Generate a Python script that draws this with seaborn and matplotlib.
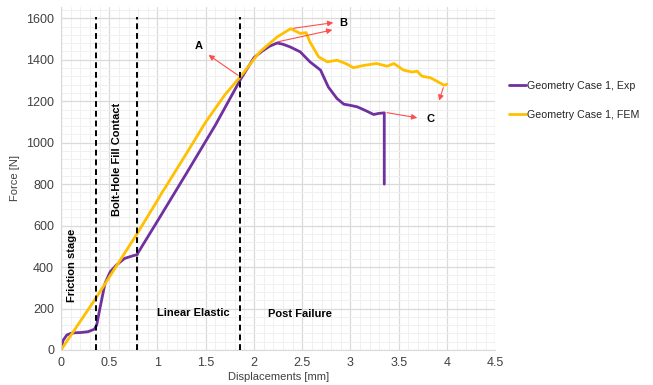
import matplotlib
matplotlib.use("Agg")
import matplotlib.pyplot as plt
import seaborn as sns
import pandas as pd
from matplotlib.ticker import MultipleLocator

# ---- data ----
exp_x = [0.0, 0.02, 0.06, 0.10, 0.145, 0.2, 0.28, 0.345, 0.37, 0.40, 0.456, 0.51, 0.575,
         0.66, 0.75, 0.79, 0.80, 1.0, 1.3, 1.6, 1.86, 2.0, 2.08, 2.16, 2.24,
         2.30, 2.375, 2.48, 2.58, 2.69, 2.77, 2.86, 2.93, 3.0, 3.07, 3.17, 3.24, 3.29,
         3.35, 3.35]
exp_y = [0, 45, 72, 80, 83, 84, 88, 100, 120, 193, 321, 377, 410, 442, 455, 460,
         470, 622, 852, 1085, 1305, 1410, 1440, 1465, 1481, 1475, 1462, 1438, 1390,
         1350, 1269, 1213, 1186, 1180, 1173, 1152, 1136, 1141, 1144, 800]

fem_x = [0.0, 0.36, 0.79, 1.0, 1.05, 1.08, 1.3, 1.5, 1.7, 1.86, 2.06, 2.24, 2.38, 2.48,
         2.54, 2.58, 2.67, 2.76, 2.86, 2.95, 3.03, 3.14, 3.27, 3.38, 3.45, 3.55, 3.64,
         3.69, 3.74, 3.83, 3.91, 3.97, 4.0]
fem_y = [0, 249, 562, 722, 762, 783, 948, 1100, 1232, 1319, 1438, 1510, 1550, 1527,
         1531, 1486, 1414, 1390, 1398, 1382, 1362, 1373, 1382, 1369, 1382, 1350, 1341,
         1345, 1321, 1313, 1293, 1277, 1282]

stage_x = [0.36, 0.79, 1.86]
series_names = ["Geometry Case 1, Exp", "Geometry Case 1, FEM"]
x_ticks = [0, 0.5, 1, 1.5, 2, 2.5, 3, 3.5, 4, 4.5]
x_tick_labels = ["0", "0.5", "1", "1.5", "2", "2.5", "3", "3.5", "4", "4.5"]
y_ticks = [0, 200, 400, 600, 800, 1000, 1200, 1400, 1600]

df = pd.concat([
    pd.DataFrame({"x": exp_x, "y": exp_y, "series": series_names[0]}),
    pd.DataFrame({"x": fem_x, "y": fem_y, "series": series_names[1]}),
])

sns.set_style("white")
plt.rcParams["font.family"] = ["Liberation Sans", "DejaVu Sans"]

fig = plt.figure(figsize=(6.53, 3.85), dpi=100)
ax = fig.add_axes([0.0934, 0.091, 0.665, 0.891])

palette = {series_names[0]: "#7030A0", series_names[1]: "#FFC000"}
sns.lineplot(data=df, x="x", y="y", hue="series", units="series", estimator=None,
             sort=False, palette=palette, ax=ax, linewidth=2.0, legend=True)

ax.set_xlim(0, 4.5)
ax.set_ylim(0, 1655)
ax.set_xticks(x_ticks)
ax.set_xticklabels(x_tick_labels)
ax.set_yticks(y_ticks)
ax.xaxis.set_minor_locator(MultipleLocator(0.1))
ax.yaxis.set_minor_locator(MultipleLocator(40))
ax.grid(True, which="major", color="#dadada", linewidth=0.9)
ax.grid(True, which="minor", color="#f0f0f0", linewidth=0.7)
ax.set_axisbelow(True)
for s in ["top", "right"]:
    ax.spines[s].set_visible(False)
for s in ["left", "bottom"]:
    ax.spines[s].set_color("#d9d9d9")
ax.tick_params(axis="both", which="both", length=0, labelsize=9, colors="#404040", pad=5)
ax.set_xlabel("Displacements [mm]", fontsize=8, color="#404040", labelpad=2)
ax.set_ylabel("Force [N]", fontsize=8, color="#404040", labelpad=4)

for xv in stage_x:
    ax.plot([xv, xv], [0, 1608], color="black", linestyle=(0, (3, 2)), linewidth=1.4, zorder=3)

tk = dict(fontsize=8, fontweight="bold", color="black")
ax.text(0.11, 410, "Friction stage", rotation=90, ha="center", va="center", **tk)
ax.text(0.58, 920, "Bolt-Hole Fill Contact", rotation=90, ha="center", va="center", **tk)
ax.text(1.37, 178, "Linear Elastic", ha="center", va="center", **tk)
ax.text(2.48, 172, "Post Failure", ha="center", va="center", **tk)

arr = dict(arrowstyle="-|>", color="#ff4d4d", lw=0.8, mutation_scale=8)
ax.annotate("", xy=(1.505, 1431), xytext=(1.86, 1317), arrowprops=arr)
ax.text(1.43, 1465, "A", ha="center", va="center", **tk)
ax.annotate("", xy=(2.85, 1581), xytext=(2.38, 1550), arrowprops=arr)
ax.annotate("", xy=(2.84, 1547), xytext=(2.22, 1484), arrowprops=arr)
ax.text(2.93, 1578, "B", ha="center", va="center", **tk)
ax.annotate("", xy=(3.72, 1118), xytext=(3.35, 1147), arrowprops=arr)
ax.text(3.83, 1116, "C", ha="center", va="center", **tk)
ax.annotate("", xy=(3.91, 1190), xytext=(3.97, 1278), arrowprops=arr)

handles, labels = ax.get_legend_handles_labels()
ax.legend(handles, labels, loc="center left", bbox_to_anchor=(1.01, 0.728), frameon=False,
          fontsize=7.7, handlelength=1.6, handletextpad=0.1, labelspacing=1.75)

fig.savefig("out.png", dpi=100)
